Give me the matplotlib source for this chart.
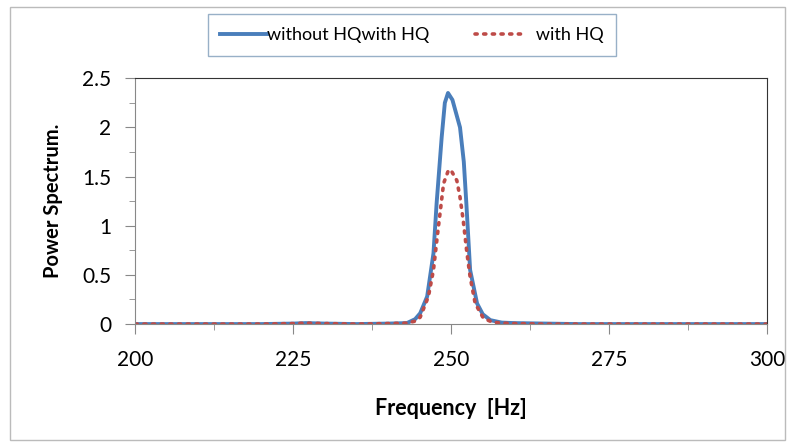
import numpy as np
import matplotlib.pyplot as plt
from matplotlib.patches import Rectangle
from matplotlib.ticker import MultipleLocator

plt.rcParams['font.family'] = ['Lato', 'DejaVu Sans']

# values
freq_a = [200, 205, 210, 215, 220, 225, 227, 230, 235, 240, 243, 244.3, 245.1, 246.2, 247.2, 247.7,
          248.5, 249.0, 249.5, 250.2, 251.4, 252.0, 252.4, 253.0, 254.1, 255.0, 256.2, 258, 260, 265,
          270, 275, 280, 285, 290, 295, 300]
pow_a = [0.0, 0.0, 0.0, 0.0, 0.0, 0.005, 0.01, 0.005, 0.0, 0.005, 0.01, 0.05, 0.11, 0.28, 0.72, 1.23,
         1.9, 2.25, 2.35, 2.28, 2.0, 1.65, 1.23, 0.55, 0.21, 0.1, 0.04, 0.015, 0.01, 0.005,
         0.0, 0.0, 0.0, 0.0, 0.0, 0.0, 0.0]

freq_b = [200, 205, 210, 215, 220, 225, 227, 230, 235, 240, 243, 244.3, 245.1, 246.4, 247.2, 247.8,
          248.3, 248.8, 249.6, 250.1, 250.9, 251.4, 251.9, 252.5, 253.0, 253.8, 255.1, 256.5, 258, 260,
          265, 270, 275, 280, 285, 290, 295, 300]
pow_b = [0.0, 0.0, 0.0, 0.0, 0.0, 0.005, 0.01, 0.005, 0.0, 0.005, 0.01, 0.03, 0.07, 0.28, 0.55, 0.89,
         1.16, 1.43, 1.57, 1.55, 1.46, 1.29, 1.06, 0.72, 0.48, 0.21, 0.06, 0.02, 0.01, 0.005,
         0.0, 0.0, 0.0, 0.0, 0.0, 0.0, 0.0, 0.0]

xticks = [200, 225, 250, 275, 300]
yticks = [0, 0.5, 1, 1.5, 2, 2.5]
ytick_labels = ['0', '0.5', '1', '1.5', '2', '2.5']

fig = plt.figure(figsize=(7.95, 4.47), dpi=100)
ax = fig.add_axes([0.170, 0.275, 0.795, 0.550])

ax.plot(freq_a, pow_a, color='#4a7ebb', lw=2.8, label='without HQwith HQ')
ax.plot(freq_b, pow_b, color='#be4b48', lw=2.6, linestyle=(0, (0.6, 1.8)),
        dash_capstyle='round', label='   with HQ')

ax.set_xlim(200, 300)
ax.set_ylim(0, 2.5)
ax.set_xticks(xticks)
ax.set_yticks(yticks)
ax.set_yticklabels(ytick_labels)
ax.xaxis.set_minor_locator(MultipleLocator(12.5))
ax.yaxis.set_minor_locator(MultipleLocator(0.25))
ax.tick_params(axis='both', which='both', direction='out', color='#888888', labelsize=15)
ax.tick_params(axis='both', which='major', length=7)
ax.tick_params(axis='both', which='minor', length=4)
ax.tick_params(axis='x', pad=12)
ax.tick_params(axis='y', pad=10)

for s in ['left', 'bottom']:
    ax.spines[s].set_color('#888888')
for s in ['top', 'right']:
    ax.spines[s].set_color('#333333')

ax.set_xlabel('Frequency  [Hz]', fontsize=15.5, fontweight='bold', labelpad=20)
ax.set_ylabel('Power Spectrum.', fontsize=14.5, fontweight='bold', labelpad=14)

leg = fig.legend(loc='center', bbox_to_anchor=(0.518, 0.922), ncol=2, fontsize=13,
                 frameon=True, fancybox=False, edgecolor='#7f9db9', handlelength=2.6,
                 handletextpad=0.0, columnspacing=2.5, borderpad=0.7, borderaxespad=0)
leg.get_frame().set_linewidth(1.0)

fig.patches.append(Rectangle((0.012, 0.015), 0.975, 0.97, transform=fig.transFigure,
                             fill=False, edgecolor='#bbbbbb', lw=1))

fig.savefig('out.png', dpi=100)
